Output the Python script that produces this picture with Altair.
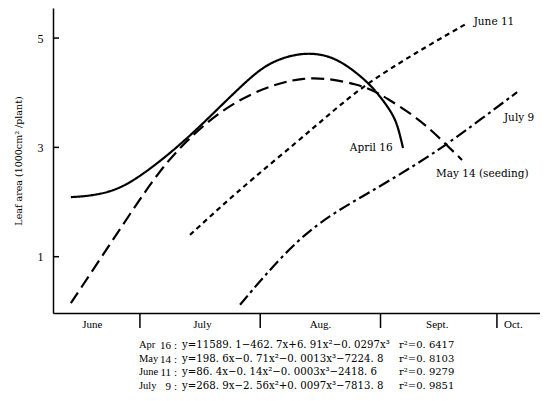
import altair as alt
import pandas as pd

# x = days after June 1 (July 1 = 30, Aug 1 = 61, Sept 1 = 92, Oct 1 = 122)
apr_x = [12.2, 17.1, 24.8, 33.4, 41.9, 50.6, 55.8, 61.7, 67.4, 73.0, 77.7, 81.5, 85.4, 89.3, 92.6, 95.2, 96.5, 97.8]
apr_y = [2.09, 2.11, 2.22, 2.64, 3.14, 3.74, 4.10, 4.48, 4.66, 4.73, 4.69, 4.58, 4.39, 4.15, 3.87, 3.60, 3.38, 2.99]

may_x = [12.2, 19.7, 27.4, 35.2, 41.9, 50.6, 59.1, 66.1, 72.0, 79.0, 85.9, 89.3, 93.7, 100.4, 104.7, 109.1, 113.0]
may_y = [0.15, 0.95, 1.78, 2.59, 3.12, 3.66, 4.00, 4.18, 4.27, 4.26, 4.15, 4.07, 3.90, 3.59, 3.34, 3.04, 2.77]

jun_x = [42.9, 50.6, 59.1, 70.5, 79.0, 87.5, 97.0, 104.7, 114.3]
jun_y = [1.40, 1.90, 2.43, 3.10, 3.62, 4.12, 4.55, 4.88, 5.27]

jul_x = [55.8, 61.7, 70.5, 79.0, 87.5, 96.2, 104.7, 109.1, 117.6, 127.2]
jul_y = [0.12, 0.62, 1.30, 1.76, 2.11, 2.47, 2.85, 3.06, 3.50, 4.01]

series_names = ["April 16", "May 14", "June 11", "July 9"]
series_dash = [[1, 0], [13, 6], [5, 4], [12, 4, 3, 4]]

label_text = ["April 16", "May 14 (seeding)", "June 11", "July 9"]
label_x = [84.1, 106.3, 116.0, 123.8]
label_y = [2.99, 2.51, 5.29, 3.54]

month_names = ["June", "July", "Aug.", "Sept.", "Oct."]
month_mid = [17.6, 46.0, 76.4, 106.5, 126.1]
month_bounds = [30, 61, 92, 122]

y_ticks = [1, 3, 5]

eq_month = ["Apr", "May", "June", "July"]
eq_day = ["16", "14", "11", "9"]
eq_formula = [
    "y=11589. 1\u2212462. 7x+6. 91x\u00b2\u22120. 0297x\u00b3",
    "y=198. 6x\u22120. 71x\u00b2\u22120. 0013x\u00b3\u22127224. 8",
    "y=86. 4x\u22120. 14x\u00b2\u22120. 0003x\u00b3\u22122418. 6",
    "y=268. 9x\u22122. 56x\u00b2+0. 0097x\u00b3\u22127813. 8",
]
eq_r2 = ["r\u00b2=0. 6417", "r\u00b2=0. 8103", "r\u00b2=0. 9279", "r\u00b2=0. 9851"]

FONT = "Liberation Serif"
WIDE = "DejaVu Serif"
XDOM = [7.6, 133.1]
YDOM = [-0.03, 5.55]

xs = [apr_x, may_x, jun_x, jul_x]
ys = [apr_y, may_y, jun_y, jul_y]
rows = []
for n, xx, yy in zip(series_names, xs, ys):
    for a, b in zip(xx, yy):
        rows.append({"series": n, "day": a, "area": b})
df = pd.DataFrame(rows)

xscale = alt.Scale(domain=XDOM, nice=False, zero=False)
yscale = alt.Scale(domain=YDOM, nice=False, zero=False)

label_expr = " : ".join(
    [f"datum.value < {b} ? '{m}'" for b, m in zip(month_bounds, month_names[:-1])]
) + f" : '{month_names[-1]}'"

base_x = alt.X(
    "day:Q",
    scale=xscale,
    axis=alt.Axis(
        values=month_mid,
        labelExpr=label_expr,
        tickSize=0,
        labelPadding=5,
        labelFont=FONT,
        labelFontSize=11,
        labelColor="black",
        domainColor="black",
        domainWidth=1.5,
        grid=False,
        title=None,
    ),
)
base_y = alt.Y(
    "area:Q",
    scale=yscale,
    axis=alt.Axis(
        values=y_ticks,
        format="d",
        tickSize=0,
        labelPadding=10,
        labelFont=FONT,
        labelFontSize=12,
        labelColor="black",
        domainColor="black",
        domainWidth=1.5,
        grid=False,
        title="Leaf area (1000cm\u00b2 /plant)",
        titleFont=WIDE,
        titleFontSize=9.5,
        titleFontWeight="normal",
        titleColor="black",
        titlePadding=14,
    ),
)

layers = []
for i, (n, d) in enumerate(zip(series_names, series_dash)):
    enc_x = base_x if i == 0 else alt.X("day:Q", scale=xscale)
    enc_y = base_y if i == 0 else alt.Y("area:Q", scale=yscale)
    layers.append(
        alt.Chart(df)
        .transform_filter(alt.datum.series == n)
        .mark_line(color="black", strokeWidth=2.2, strokeDash=d, interpolate="basis")
        .encode(x=enc_x, y=enc_y, order="day:Q")
    )

lab_df = pd.DataFrame({"t": label_text, "day": label_x, "area": label_y})
layers.append(
    alt.Chart(lab_df)
    .mark_text(align="left", baseline="middle", font=WIDE, fontSize=10.5, color="black")
    .encode(x=alt.X("day:Q", scale=xscale), y=alt.Y("area:Q", scale=yscale), text="t:N")
)

# inward ticks on y axis
tick_df = pd.DataFrame({"area": y_ticks})
layers.append(
    alt.Chart(tick_df)
    .mark_rule(color="black", strokeWidth=1.5)
    .encode(y=alt.Y("area:Q", scale=yscale), x=alt.value(0), x2=alt.value(6))
)

# month dividers below axis
div_df = pd.DataFrame({"day": month_bounds})
layers.append(
    alt.Chart(div_df)
    .mark_rule(color="black", strokeWidth=1.5)
    .encode(x=alt.X("day:Q", scale=xscale), y=alt.value(305), y2=alt.value(320))
)

# equation table
one = pd.DataFrame({"k": [0]})
LH = 13.5
TOP = 332
cols = [
    ("\n".join(eq_month), 86, "left", FONT, 10.5),
    ("\n".join(eq_day), 118, "right", FONT, 11),
    ("\n".join([":"] * 4), 121, "left", FONT, 11),
    ("\n".join(eq_formula), 129, "left", WIDE, 10.2),
    ("\n".join(eq_r2), 346, "left", WIDE, 10),
]
for txt, xv, al, fnt, fs in cols:
    layers.append(
        alt.Chart(one)
        .mark_text(align=al, baseline="top", font=fnt, fontSize=fs, color="black",
                   lineBreak="\n", lineHeight=LH)
        .encode(x=alt.value(xv), y=alt.value(TOP), text=alt.value(txt))
    )

chart = (
    alt.layer(*layers)
    .properties(
        width=487,
        height=305,
        autosize=alt.AutoSizeParams(type="none"),
        padding={"left": 45, "top": 0, "right": 0, "bottom": 80},
        background="white",
    )
    .configure_view(stroke=None)
)

chart.save("out.html", embed_options={"renderer": "svg", "actions": False})
